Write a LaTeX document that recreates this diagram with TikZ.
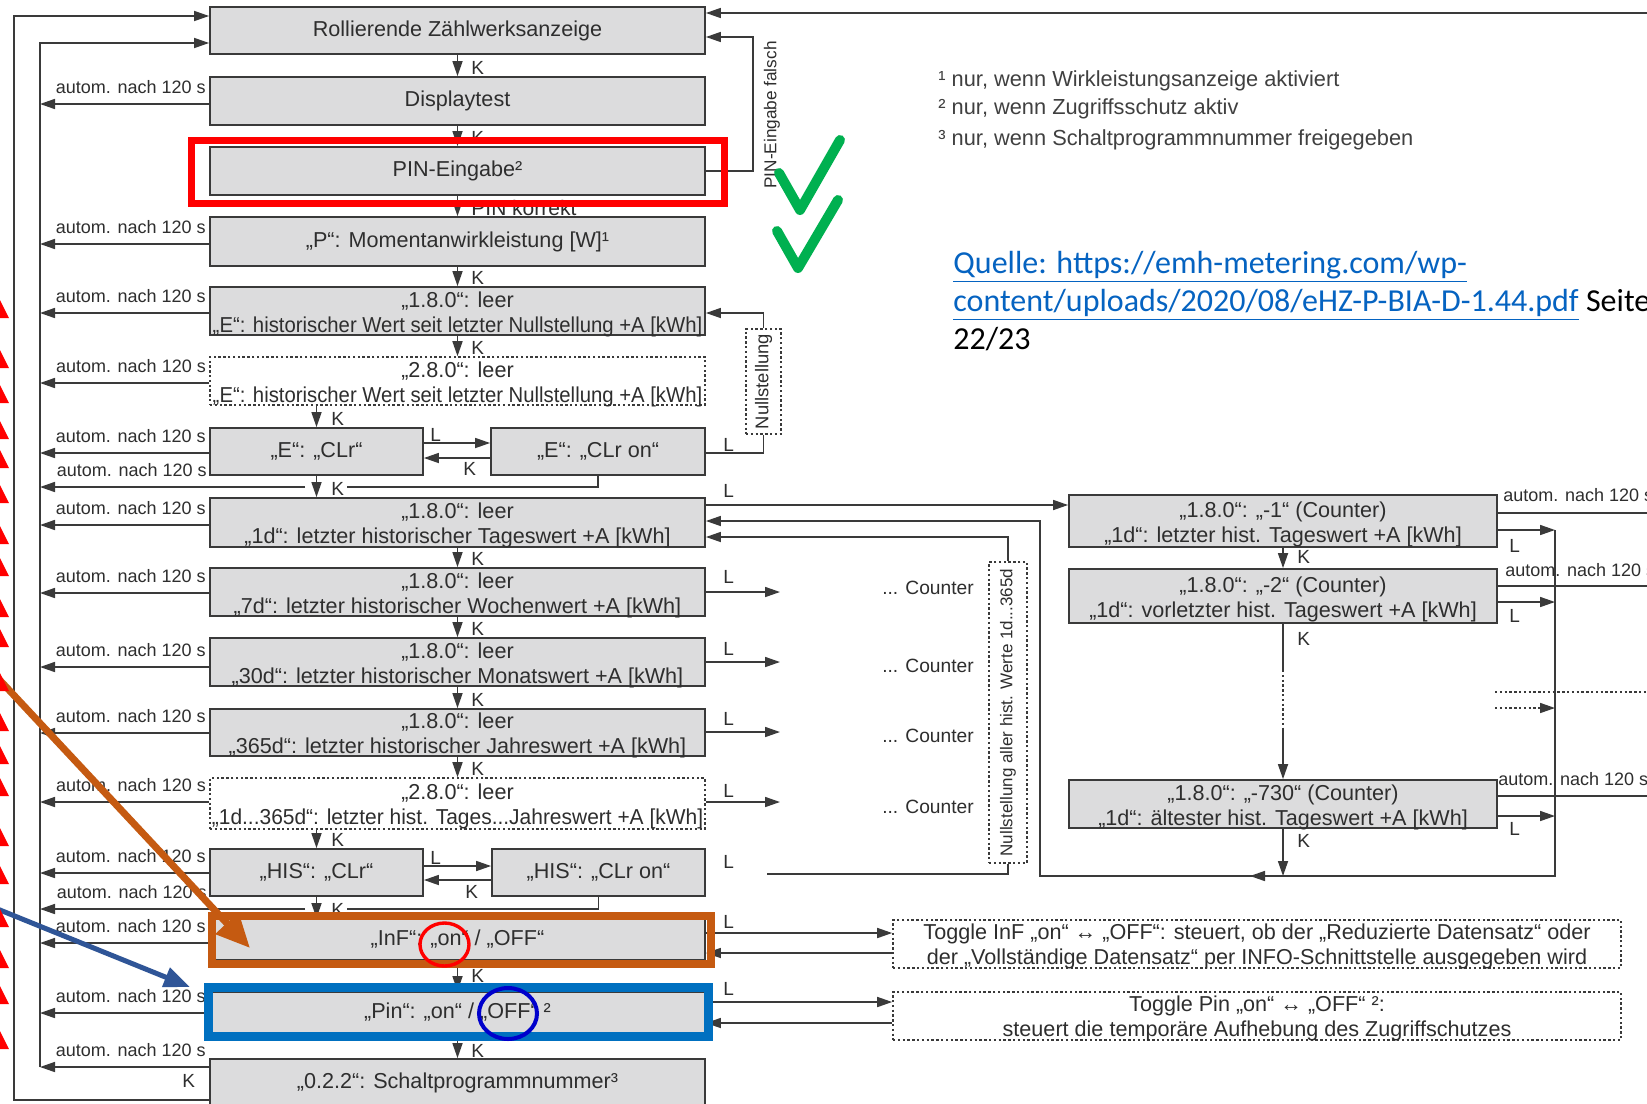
\documentclass[tikz,border=0pt]{standalone}
\usepackage{fontspec}
\setmainfont{Liberation Sans}
\newfontfamily\calib{Carlito}
\usetikzlibrary{arrows.meta,calc}
\definecolor{bf}{HTML}{DCDCDD}
\definecolor{bd}{HTML}{3A3A3A}
\definecolor{lc}{HTML}{3A3A3A}
\definecolor{tx}{HTML}{2E2E2E}
\definecolor{ftx}{HTML}{404040}
\definecolor{linkblue}{HTML}{0563C1}
\definecolor{orng}{HTML}{C55A11}
\definecolor{blu}{HTML}{2F5597}
\definecolor{blrect}{HTML}{0070C0}
\definecolor{grn}{HTML}{00B050}
\newcommand\fsz[2]{\fontsize{#1}{#2}\selectfont}
\newcommand\sqz[2]{\scalebox{#1}[1]{#2}}
\newcommand\autom[3]{%
  \coordinate (#3) at (40,#2);
  \draw[arr] (#1.west |- #3) -- (#3);
  \node[lbl, anchor=base east] at ([xshift=-1.5pt,yshift=5.3pt]#1.west |- #3) {autom. nach 120 s};
}
\begin{document}
\begin{tikzpicture}[x=0.5pt,y=-0.5pt,
  spn/.style n args={4}{at={({(#1+#3)/2},{(#2+#4)/2})}, minimum width={(#3-#1)*0.5pt}, minimum height={(#4-#2)*0.5pt}},
  box/.style={draw=bd, fill=bf, line width=0.9pt, inner sep=0pt, align=center, text=tx, font=\fsz{10.8}{13}},
  dbox/.style={box, fill=white, dash pattern=on 1.2pt off 1.2pt, line width=0.8pt},
  tl/.style={label={[inner sep=0pt, align=center, text=tx, font=\fsz{10.8}{12.7}, yshift=-1.6pt]center:{#1}}},
  tlt/.style={label={[inner sep=0pt, align=center, text=tx, font=\fsz{10.8}{12.4}, yshift=-1pt]center:{#1}}},
  conn/.style={draw=lc, line width=0.8pt},
  arr/.style={conn, -{Triangle[length=7.5pt,width=5pt]}},
  lbl/.style={inner sep=0pt, text=tx, font=\fsz{9}{11}},
  kl/.style={inner sep=0pt, text=tx, font=\fsz{9.5}{11}, anchor=base west},
  ftn/.style={inner sep=0pt, text=ftx, font=\fsz{10.9}{12}, anchor=base west},
]
\fill[white] (0,0) rectangle (1647,1103);
\useasboundingbox (0,0) rectangle (1647,1103);

% main column
\node[box, spn={210}{7}{705}{54}] (b1) {Rollierende Zählwerksanzeige};
\node[box, spn={210}{77}{705}{125}] (b2) {Displaytest};
\node[box, spn={210}{147}{705}{195}] (b3) {PIN-Eingabe²};
\node[box, spn={210}{217}{705}{266}] (b4) {„P“: Momentanwirkleistung [W]¹};
\node[box, spn={210}{287}{705}{335}, tl={„1.8.0“: leer\\\sqz{0.94}{„E“: historischer Wert seit letzter Nullstellung +A [kWh]}}] (b5) {};
\node[dbox, spn={210}{357}{705}{405}, tl={„2.8.0“: leer\\\sqz{0.94}{„E“: historischer Wert seit letzter Nullstellung +A [kWh]}}] (b6) {};
\node[box, spn={210}{428}{423}{475}] (b7) {„E“: „CLr“};
\node[box, spn={491}{428}{705}{475}] (b8) {„E“: „CLr on“};
\node[box, spn={210}{498}{705}{547}, tl={„1.8.0“: leer\\„1d“: letzter historischer Tageswert +A [kWh]}] (b9) {};
\node[box, spn={210}{568}{705}{616}, tl={„1.8.0“: leer\\„7d“: letzter historischer Wochenwert +A [kWh]}] (b10) {};
\node[box, spn={210}{638}{705}{686}, tl={„1.8.0“: leer\\„30d“: letzter historischer Monatswert +A [kWh]}] (b11) {};
\node[box, spn={210}{709}{705}{756}, tl={„1.8.0“: leer\\„365d“: letzter historischer Jahreswert +A [kWh]}] (b12) {};
\node[dbox, spn={210}{778}{705}{829}, tl={„2.8.0“: leer\\\sqz{0.97}{„1d...365d“: letzter hist. Tages...Jahreswert +A [kWh]}}] (b13) {};
\node[box, spn={210}{849}{423}{896}] (b14) {„HIS“: „CLr“};
\node[box, spn={492}{849}{705}{896}] (b15) {„HIS“: „CLr on“};
\node[box, spn={210}{919}{705}{960}] (b16) {„InF“: „on“ / „OFF“};
\node[box, spn={210}{992}{705}{1033}] (b17) {„Pin“: „on“ / „OFF“ ²};
\node[box, spn={210}{1059}{705}{1107}] (b18) {„0.2.2“: Schaltprogrammnummer³};

% right column
\node[box, spn={1069}{495}{1497}{547}, tl={„1.8.0“: „-1“ (Counter)\\„1d“: letzter hist. Tageswert +A [kWh]}] (r1) {};
\node[box, spn={1069}{569}{1497}{623}, tl={„1.8.0“: „-2“ (Counter)\\„1d“: vorletzter hist. Tageswert +A [kWh]}] (r2) {};
\node[box, spn={1069}{780}{1497}{828}, tl={„1.8.0“: „-730“ (Counter)\\„1d“: ältester hist. Tageswert +A [kWh]}] (r3) {};

% Nullstellung boxes
\node[dbox, spn={746}{329}{781}{434}] (ns) {};
\node[lbl, rotate=90, font=\fsz{9.2}{11}] at (ns.center) {Nullstellung};
\node[dbox, spn={989}{562}{1027}{863}] (nsa) {};
\node[lbl, rotate=90, font=\fsz{8.5}{10}] at (nsa.center) {Nullstellung aller hist. Werte 1d...365d};

% toggle boxes
\node[dbox, spn={893}{920}{1621}{968}, tlt={Toggle InF „on“ ↔ „OFF“: steuert, ob der „Reduzierte Datensatz“ oder\\der „Vollständige Datensatz“ per INFO-Schnittstelle ausgegeben wird}] (tinf) {};
\node[dbox, spn={893}{992}{1621}{1040}, tlt={Toggle Pin „on“ ↔ „OFF“ ²:\\steuert die temporäre Aufhebung des Zugriffschutzes}] (tpin) {};

% counters
\node[lbl, font=\fsz{9.6}{11}] (c1) at (928,588) {... Counter};
\node[lbl, font=\fsz{9.6}{11}] (c2) at (928,666) {... Counter};
\node[lbl, font=\fsz{9.6}{11}] (c3) at (928,736) {... Counter};
\node[lbl, font=\fsz{9.6}{11}] (c4) at (928,807) {... Counter};

% K arrows main column
\draw[arr] (b1.south) -- (b2.north);
\draw[arr] (b2.south) -- (b3.north);
\draw[arr] (b3.south) -- (b4.north);
\draw[arr] (b4.south) -- (b5.north);
\draw[arr] (b5.south) -- (b6.north);
\draw[arr] (b7.north |- b6.south) -- (b7.north);
\draw[arr] (b7.south) -- (b7.south |- b9.north);
\draw[arr] (b9.south) -- (b10.north);
\draw[arr] (b10.south) -- (b11.north);
\draw[arr] (b11.south) -- (b12.north);
\draw[arr] (b12.south) -- (b13.north);
\draw[arr] (b14.north |- b13.south) -- (b14.north);
\draw[arr] (b14.south) -- (b14.south |- b16.north);
\draw[arr] (b16.south) -- (b17.north);
\draw[arr] (b17.south) -- (b18.north);
\foreach \yy in {74,144,284,354,565,635,706,775,982,1057} \node[kl] at (471,\yy) {K};
\foreach \yy in {425,495,846,916} \node[kl] at (331,\yy) {K};
\node[kl, font=\fsz{10.5}{12}] at (471,215) {PIN korrekt};

% CLr side arrows
\draw[arr] (b7.east |- 0,443) -- (b8.west |- 0,443);
\draw[arr] (b8.west |- 0,458) -- (b7.east |- 0,458);
\node[kl] at (430,441) {L};
\node[kl] at (463,475) {K};
\draw[arr] (b14.east |- 0,866) -- (b15.west |- 0,866);
\draw[arr] (b15.west |- 0,880) -- (b14.east |- 0,880);
\node[kl] at (430,864) {L};
\node[kl] at (465,898) {K};

% left trunks
\autom{b2}{104}{t2}
\autom{b4}{244}{t4}
\autom{b5}{313}{t5}
\autom{b6}{383}{t6}
\autom{b7}{453}{t7}
\autom{b9}{525}{t9}
\autom{b10}{593}{t10}
\autom{b11}{667}{t11}
\autom{b12}{733}{t12}
\autom{b13}{802}{t13}
\autom{b14}{873}{t14}
\autom{b16}{943}{t16}
\autom{b17}{1013}{t17}
\autom{b18}{1067}{t18}
% returns from CLr on
\coordinate (re1) at (40,487);
\draw[conn] (b8.south) -- (b8.south |- re1) -- (347,487);
\draw[arr] (305,487) -- (re1);
\node[lbl, anchor=base east] at (207,476.5) {autom. nach 120 s};
\coordinate (re2) at (40,909);
\draw[conn] (b15.south) -- (b15.south |- re2) -- (347,909);
\draw[arr] (305,909) -- (re2);
\node[lbl, anchor=base east] at (207,898.5) {autom. nach 120 s};
\draw[arr] (t18) -- (40,43) -- (b1.west |- 0,43);
\draw[arr] (b18.west |- 0,1100) -- (14,1100) -- (14,16) -- (b1.west |- 0,16);
\node[kl] at (182,1087) {K};

% top right
\draw[arr] (1662,13) -- (b1.east |- 0,13);
\draw[arr] (b3.east) -- (753,171) -- (753,37) -- (b1.east |- 0,37);
\node[lbl, rotate=90, font=\fsz{8.6}{10}] at (772,115) {PIN-Eingabe falsch};

% Nullstellung
\draw[conn] (b8.east |- 0,453) -- (ns.south |- 0,453) -- (ns.south);
\draw[arr] (ns.north) -- (ns.north |- 0,313) -- (b5.east |- 0,313);
\node[kl] at (723,451) {L};

% b9 connections
\draw[arr] (b9.east |- 0,505) -- (r1.west |- 0,505);
\node[kl] at (723,497) {L};
\draw[arr] (r1.east |- 0,530) -- (1555,530);
\draw[arr] (r2.east |- 0,602) -- (1555,602);
\draw[arr] (r3.east |- 0,816) -- (1555,816);
\draw[arr] (1555,530) -- (1555,876) -- (1040,876) -- (1040,521) -- (b9.east |- 0,521);
\draw[arr] (1275,876) -- (1250,876);
\draw[arr] (nsa.north) -- (nsa.north |- 0,537) -- (b9.east |- 0,537);
\draw[conn] (767,874) -- (nsa.south |- 0,874) -- (nsa.south);
\node[kl] at (723,868) {L};

% outgoing L of b10-b13
\draw[arr] (b10.east |- 0,592) -- (780,592);
\draw[arr] (b11.east |- 0,662) -- (780,662);
\draw[arr] (b12.east |- 0,732) -- (780,732);
\draw[arr] (b13.east |- 0,802) -- (780,802);
\foreach \yy in {583,655,725,797} \node[kl] at (723,\yy) {L};

% right column
\draw[arr] (r1.south) -- (r2.north);
\draw[conn] (r2.south) -- (1283,670);
\draw[conn, dash pattern=on 1.2pt off 1.2pt] (1283,670) -- (1283,730);
\draw[arr] (1283,730) -- (r3.north);
\draw[arr] (r3.south) -- (r3.south |- 0,876);
\node[kl] at (1297,563) {K};
\node[kl] at (1297,645) {K};
\node[kl] at (1297,847) {K};
\node[kl] at (1509,552) {L};
\node[kl] at (1509,622) {L};
\node[kl] at (1509,835) {L};
\draw[arr] (r1.east |- 0,513) -- (1662,513);
\draw[arr] (r2.east |- 0,586) -- (1662,586);
\draw[arr] (r3.east |- 0,796) -- (1662,796);
\draw[arr, dash pattern=on 1.2pt off 1.2pt] (1495,692) -- (1662,692);
\draw[arr, dash pattern=on 1.2pt off 1.2pt] (1495,708) -- (1555,708);
\node[lbl, anchor=base west] at (1503,501) {autom. nach 120 s};
\node[lbl, anchor=base west] at (1505,576) {autom. nach 120 s};
\node[lbl, anchor=base west] at (1498,785) {autom. nach 120 s};

% toggles
\draw[arr] (b16.east |- 0,933) -- (tinf.west |- 0,933);
\draw[arr] (tinf.west |- 0,953) -- (b16.east |- 0,953);
\draw[arr] (b17.east |- 0,1002) -- (tpin.west |- 0,1002);
\draw[arr] (tpin.west |- 0,1023) -- (b17.east |- 0,1023);
\node[kl] at (723,928) {L};
\node[kl] at (723,995) {L};

% footnotes
\node[ftn] at (938,86) {¹ nur, wenn Wirkleistungsanzeige aktiviert};
\node[ftn] at (938,114) {² nur, wenn Zugriffsschutz aktiv};
\node[ftn] at (938,145) {³ nur, wenn Schaltprogrammnummer freigegeben};

% source link
\node[anchor=base west, inner sep=0pt, font=\calib\fsz{16}{19}, text=linkblue] at (953,273) {\underline{Quelle: https://emh-metering.com/wp-}};
\node[anchor=base west, inner sep=0pt, font=\calib\fsz{16}{19}] at (953,311) {\textcolor{linkblue}{\underline{content/uploads/2020/08/eHZ-P-BIA-D-1.44.pdf}} Seite};
\node[anchor=base west, inner sep=0pt, font=\calib\fsz{16}{19}] at (953,349) {22/23};

% annotations
\draw[red, line width=3.5pt] (191.5,140.5) rectangle (724.5,203.5);
\draw[orng, line width=4pt] (212,916) rectangle (711,963.5);
\draw[blrect, line width=4.5pt] (208.5,987.5) rectangle (708,1036.5);
\draw[red, line width=1.7pt] (444.5,944.5) ellipse [x radius=24.5, y radius=21.5];
\draw[blue!80!black, line width=2pt] (508,1013.5) ellipse [x radius=29, y radius=25.5];
\draw[orng, line width=3.5pt, -{Triangle[length=17pt,width=15pt]}] (-5,675) -- (250,948);
\draw[blu, line width=2.5pt, -{Triangle[length=13pt,width=10pt]}] (-5,908) -- (190,987);
\draw[grn, line width=5pt, line cap=round, line join=round] (779,173) -- (800,210) -- (840,140);
\draw[grn, line width=5pt, line cap=round, line join=round] (777,231) -- (798,268) -- (838,200);
\foreach \yy in {312,362,397,433,462,497,538,570,611,641,685,725,758,790,840,878,921,962,998,1043}
  \fill[red] (0,\yy-12) -- (9,\yy+6) -- (0,\yy+6) -- cycle;
\end{tikzpicture}
\end{document}
